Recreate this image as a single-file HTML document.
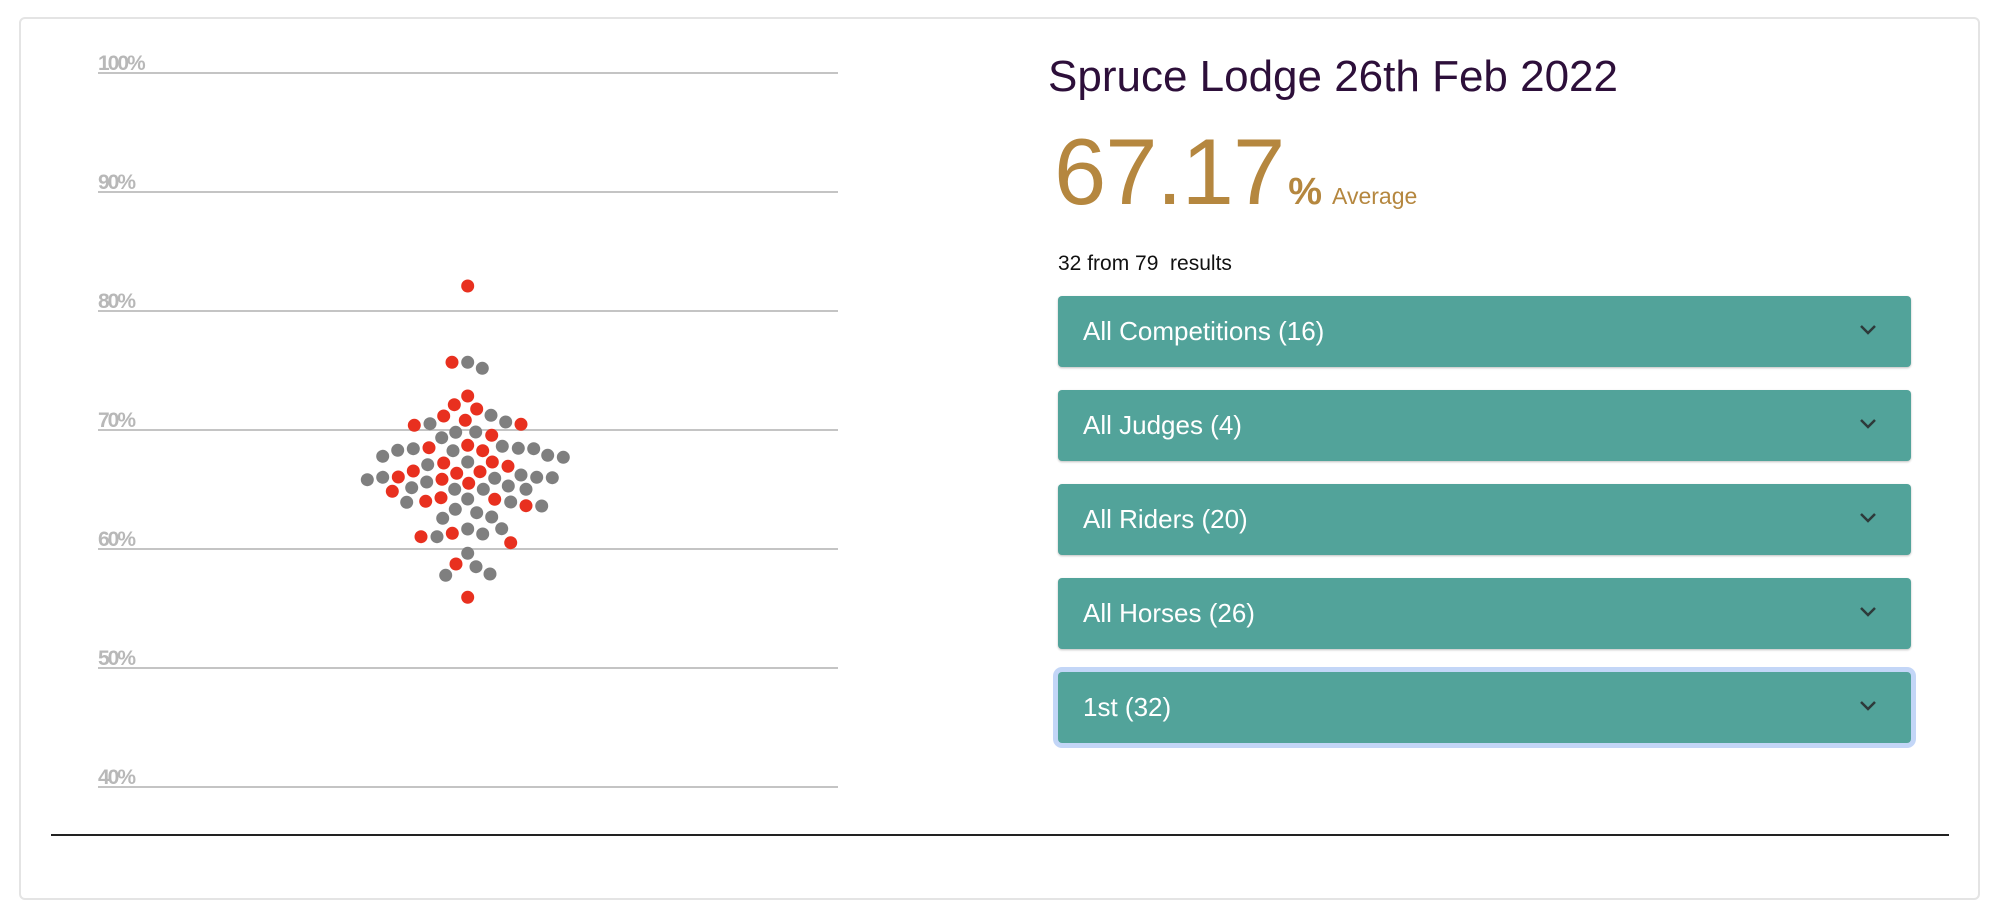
<!DOCTYPE html>
<html><head><meta charset="utf-8"><style>
html,body{margin:0;padding:0;background:#fff;width:1999px;height:922px;overflow:hidden;font-family:"Liberation Sans",sans-serif}
.card{position:absolute;left:19px;top:17px;width:1961px;height:883px;border:2px solid #e4e4e4;border-radius:6px;box-sizing:border-box}
.t{position:absolute;white-space:nowrap}
.btn{position:absolute;left:1058px;width:853px;height:71px;background:#52a39a;border-radius:4px;box-shadow:0 1px 2px rgba(0,0,0,.25);color:#fff;font-size:26px;line-height:71px;padding-left:25px;box-sizing:border-box}
.btn svg{position:absolute;right:34px;top:28px}
</style></head><body>
<div class="card"></div>
<svg width="1999" height="922" style="position:absolute;left:0;top:0">
<g stroke="#c4c4c4" stroke-width="2">
<line x1="98" x2="838" y1="73" y2="73"/><line x1="98" x2="838" y1="192" y2="192"/><line x1="98" x2="838" y1="311" y2="311"/><line x1="98" x2="838" y1="430" y2="430"/><line x1="98" x2="838" y1="549" y2="549"/><line x1="98" x2="838" y1="668" y2="668"/><line x1="98" x2="838" y1="787" y2="787"/>
</g>
<g fill="#b8b8b8" font-family="Liberation Sans" font-size="21" font-weight="bold" letter-spacing="-2">
<text x="98" y="70">100%</text><text x="98" y="189">90%</text><text x="98" y="308">80%</text><text x="98" y="427">70%</text><text x="98" y="546">60%</text><text x="98" y="665">50%</text><text x="98" y="784">40%</text>
</g>
<line x1="51" x2="1949" y1="835" y2="835" stroke="#222" stroke-width="2"/>
<g fill="#e8301f">
<circle cx="467.7" cy="286" r="6.5"/><circle cx="452" cy="362.3" r="6.5"/><circle cx="467.7" cy="396" r="6.5"/><circle cx="454.3" cy="404.7" r="6.5"/><circle cx="476.7" cy="409" r="6.5"/><circle cx="443.7" cy="416" r="6.5"/><circle cx="465.3" cy="420.3" r="6.5"/><circle cx="521" cy="424.3" r="6.5"/><circle cx="414.3" cy="425.3" r="6.5"/><circle cx="491.7" cy="435.3" r="6.5"/><circle cx="429" cy="447.7" r="6.5"/><circle cx="467.7" cy="445.3" r="6.5"/><circle cx="482.7" cy="450.7" r="6.5"/><circle cx="443.7" cy="463" r="6.5"/><circle cx="492.3" cy="462" r="6.5"/><circle cx="508" cy="466.3" r="6.5"/><circle cx="398.3" cy="477" r="6.5"/><circle cx="413.3" cy="471" r="6.5"/><circle cx="456.7" cy="473.3" r="6.5"/><circle cx="480" cy="471.7" r="6.5"/><circle cx="392.3" cy="491.3" r="6.5"/><circle cx="442" cy="479.3" r="6.5"/><circle cx="468.7" cy="483.3" r="6.5"/><circle cx="425.7" cy="501.3" r="6.5"/><circle cx="441" cy="497.7" r="6.5"/><circle cx="494.7" cy="499.3" r="6.5"/><circle cx="526" cy="505.7" r="6.5"/><circle cx="421" cy="536.7" r="6.5"/><circle cx="452.3" cy="533.3" r="6.5"/><circle cx="510.7" cy="542.7" r="6.5"/><circle cx="456" cy="564" r="6.5"/><circle cx="467.7" cy="597.3" r="6.5"/>
</g>
<g fill="#7f7f7f">
<circle cx="467.7" cy="362.3" r="6.5"/><circle cx="482.3" cy="368.3" r="6.5"/><circle cx="491" cy="415.3" r="6.5"/><circle cx="505.7" cy="422" r="6.5"/><circle cx="430" cy="423.7" r="6.5"/><circle cx="441.7" cy="437.7" r="6.5"/><circle cx="455.7" cy="432.3" r="6.5"/><circle cx="475.7" cy="432" r="6.5"/><circle cx="382.7" cy="456.3" r="6.5"/><circle cx="397.7" cy="450.3" r="6.5"/><circle cx="413.3" cy="448.7" r="6.5"/><circle cx="453" cy="450.7" r="6.5"/><circle cx="502.3" cy="446.3" r="6.5"/><circle cx="518.3" cy="448.3" r="6.5"/><circle cx="533.7" cy="448.7" r="6.5"/><circle cx="547.7" cy="455.3" r="6.5"/><circle cx="563.3" cy="457.3" r="6.5"/><circle cx="427.7" cy="464.7" r="6.5"/><circle cx="467.7" cy="462" r="6.5"/><circle cx="367.3" cy="479.7" r="6.5"/><circle cx="382.7" cy="477.3" r="6.5"/><circle cx="494.7" cy="478.3" r="6.5"/><circle cx="521" cy="475" r="6.5"/><circle cx="536.7" cy="477.3" r="6.5"/><circle cx="552.3" cy="477.7" r="6.5"/><circle cx="411.7" cy="487.7" r="6.5"/><circle cx="426.7" cy="482" r="6.5"/><circle cx="454.7" cy="489.3" r="6.5"/><circle cx="483.3" cy="489.3" r="6.5"/><circle cx="508.3" cy="486" r="6.5"/><circle cx="526" cy="489.3" r="6.5"/><circle cx="406.7" cy="502.3" r="6.5"/><circle cx="467.7" cy="499" r="6.5"/><circle cx="510.7" cy="502" r="6.5"/><circle cx="541.7" cy="506" r="6.5"/><circle cx="455.3" cy="509.3" r="6.5"/><circle cx="476.7" cy="512.7" r="6.5"/><circle cx="442.7" cy="518.3" r="6.5"/><circle cx="491.7" cy="517" r="6.5"/><circle cx="437" cy="536.7" r="6.5"/><circle cx="467.7" cy="529" r="6.5"/><circle cx="482.7" cy="534" r="6.5"/><circle cx="501.7" cy="528.7" r="6.5"/><circle cx="467.7" cy="553.3" r="6.5"/><circle cx="476" cy="566.7" r="6.5"/><circle cx="445.7" cy="575.3" r="6.5"/><circle cx="490" cy="574" r="6.5"/>
</g>
</svg>
<div class="t" style="left:1048px;top:52px;font-size:44px;color:#2d0f3a">Spruce Lodge 26th Feb 2022</div>
<div class="t" style="left:1054px;top:122px;font-size:94px;color:#b5873f;line-height:100px;letter-spacing:-1px">67.17<span style="font-size:38px;font-weight:bold;margin-left:4px;letter-spacing:0">%</span><span style="font-size:23px;margin-left:10px;letter-spacing:0">Average</span></div>
<div class="t" style="left:1058px;top:252px;font-size:21px;color:#111">32 from 79&nbsp; results</div>
<div class="btn" style="top:296px">All Competitions (16)<svg width="18" height="12"><path d="M2 2l7 7 7-7" fill="none" stroke="#2d3a3a" stroke-width="2.5"/></svg></div>
<div class="btn" style="top:390px">All Judges (4)<svg width="18" height="12"><path d="M2 2l7 7 7-7" fill="none" stroke="#2d3a3a" stroke-width="2.5"/></svg></div>
<div class="btn" style="top:484px">All Riders (20)<svg width="18" height="12"><path d="M2 2l7 7 7-7" fill="none" stroke="#2d3a3a" stroke-width="2.5"/></svg></div>
<div class="btn" style="top:578px">All Horses (26)<svg width="18" height="12"><path d="M2 2l7 7 7-7" fill="none" stroke="#2d3a3a" stroke-width="2.5"/></svg></div>
<div class="btn" style="top:672px;box-shadow:0 0 0 5px #c3d6f7">1st (32)<svg width="18" height="12"><path d="M2 2l7 7 7-7" fill="none" stroke="#2d3a3a" stroke-width="2.5"/></svg></div>
</body></html>
